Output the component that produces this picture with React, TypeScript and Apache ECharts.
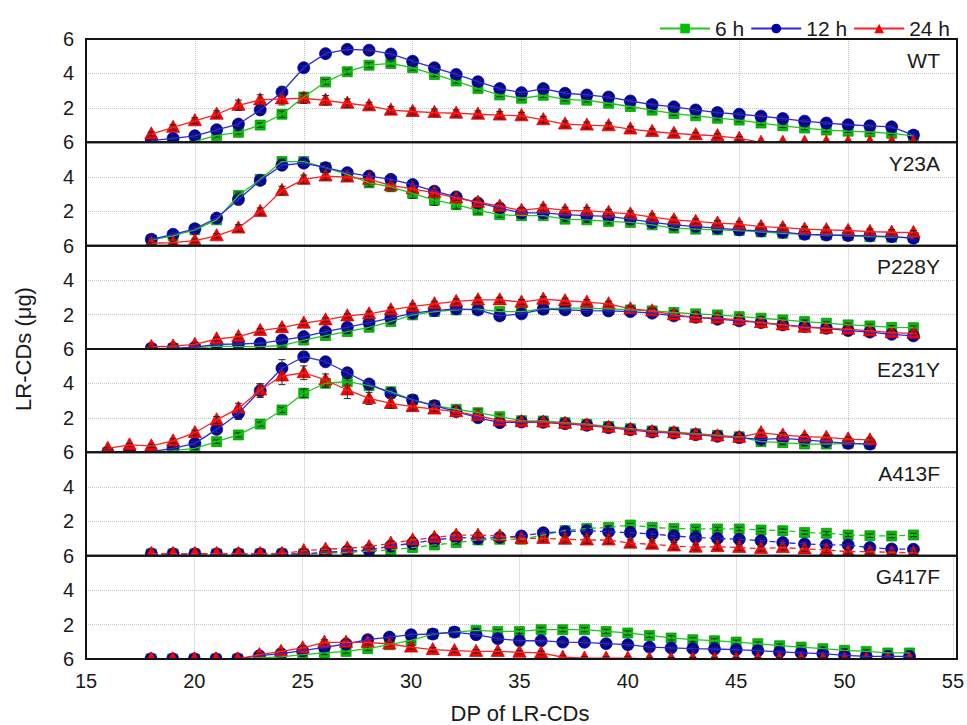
import React, { useEffect, useRef } from "react";
import * as echarts from "echarts";

// ---------- data ----------
const panels = ["WT", "Y23A", "P228Y", "E231Y", "A413F", "G417F"];
const times = ["6 h", "12 h", "24 h"];
const yTickValues = [0, 2, 4, 6];
const yTickLabels = ["6", "2", "4", "6"];
const xTicks = [15, 20, 25, 30, 35, 40, 45, 50, 55];

const dp18to53 = [18, 19, 20, 21, 22, 23, 24, 25, 26, 27, 28, 29, 30, 31, 32, 33, 34, 35, 36, 37, 38, 39, 40, 41, 42, 43, 44, 45, 46, 47, 48, 49, 50, 51, 52, 53];
const dp16to51 = [16, 17, 18, 19, 20, 21, 22, 23, 24, 25, 26, 27, 28, 29, 30, 31, 32, 33, 34, 35, 36, 37, 38, 39, 40, 41, 42, 43, 44, 45, 46, 47, 48, 49, 50, 51];

// WT
const WT_6h = [0.02, 0.03, 0.05, 0.4, 0.58, 1.0, 1.63, 2.63, 3.5, 4.1, 4.48, 4.58, 4.33, 3.94, 3.56, 3.12, 2.75, 2.56, 2.73, 2.5, 2.44, 2.27, 2.08, 1.87, 1.67, 1.54, 1.4, 1.29, 1.12, 0.96, 0.83, 0.71, 0.65, 0.6, 0.52, 0.38];
const WT_6h_err = [0, 0, 0, 0.1, 0.1, 0.12, 0.18, 0.2, 0.15, 0.15, 0.15, 0.15, 0.15, 0.12, 0.12, 0.12, 0.1, 0.1, 0.12, 0.1, 0.1, 0.1, 0.1, 0.1, 0.1, 0.1, 0.1, 0.1, 0.1, 0.1, 0.1, 0.1, 0.08, 0.08, 0.08, 0.05];
const WT_12h = [0.1, 0.23, 0.38, 0.73, 1.06, 1.88, 2.92, 4.33, 5.15, 5.4, 5.35, 5.13, 4.71, 4.33, 3.94, 3.52, 3.12, 2.88, 3.12, 2.85, 2.75, 2.63, 2.4, 2.19, 2.06, 1.88, 1.73, 1.63, 1.52, 1.38, 1.23, 1.12, 1.02, 0.96, 0.9, 0.42];
const WT_12h_err = [0.05, 0.08, 0.1, 0.1, 0.12, 0.15, 0.28, 0.12, 0.1, 0.1, 0.1, 0.12, 0.12, 0.12, 0.1, 0.1, 0.1, 0.1, 0.15, 0.1, 0.1, 0.1, 0.1, 0.1, 0.1, 0.1, 0.1, 0.1, 0.1, 0.1, 0.08, 0.08, 0.08, 0.08, 0.08, 0.05];
const WT_24h = [0.48, 0.87, 1.25, 1.63, 2.15, 2.46, 2.52, 2.56, 2.44, 2.27, 2.12, 1.87, 1.79, 1.73, 1.69, 1.63, 1.58, 1.54, 1.31, 1.06, 1.0, 0.96, 0.77, 0.63, 0.52, 0.44, 0.38, 0.23, 0, 0, 0, 0, 0, 0, 0, 0];
const WT_24h_err = [0.12, 0.15, 0.18, 0.2, 0.3, 0.3, 0.35, 0.3, 0.28, 0.25, 0.2, 0.2, 0.2, 0.2, 0.2, 0.2, 0.2, 0.2, 0.2, 0.18, 0.18, 0.18, 0.15, 0.15, 0.15, 0.12, 0.12, 0.1, 0, 0, 0, 0, 0, 0, 0, 0];

// Y23A
const Y23A_6h = [0.33, 0.57, 0.92, 1.5, 2.91, 3.85, 4.88, 4.88, 4.53, 4.14, 3.65, 3.42, 3.03, 2.64, 2.38, 2.05, 1.8, 1.74, 1.74, 1.54, 1.5, 1.41, 1.35, 1.21, 1.02, 0.96, 0.92, 0.88, 0.8, 0.72, 0.66, 0.62, 0.59, 0.53, 0.49, 0.47];
const Y23A_6h_err = [0.08, 0.1, 0.12, 0.15, 0.2, 0.15, 0.15, 0.12, 0.15, 0.2, 0.22, 0.25, 0.28, 0.3, 0.25, 0.2, 0.15, 0.15, 0.15, 0.15, 0.15, 0.15, 0.12, 0.12, 0.12, 0.1, 0.1, 0.1, 0.1, 0.1, 0.1, 0.1, 0.1, 0.08, 0.08, 0.08];
const Y23A_12h = [0.37, 0.66, 0.98, 1.6, 2.68, 3.79, 4.67, 4.79, 4.53, 4.24, 4.04, 3.85, 3.55, 3.16, 2.83, 2.48, 2.19, 1.9, 1.9, 1.8, 1.74, 1.7, 1.54, 1.35, 1.21, 1.11, 1.02, 0.92, 0.86, 0.78, 0.66, 0.62, 0.59, 0.57, 0.53, 0.43];
const Y23A_12h_err = [0.08, 0.1, 0.1, 0.15, 0.3, 0.2, 0.2, 0.15, 0.12, 0.15, 0.2, 0.25, 0.2, 0.18, 0.15, 0.15, 0.12, 0.12, 0.15, 0.12, 0.12, 0.12, 0.1, 0.1, 0.1, 0.1, 0.1, 0.1, 0.1, 0.1, 0.08, 0.08, 0.08, 0.08, 0.08, 0.08];
const Y23A_24h = [0.14, 0.18, 0.29, 0.57, 1.02, 1.99, 3.2, 3.85, 4.04, 3.98, 3.85, 3.5, 3.3, 3.07, 2.77, 2.52, 2.29, 2.05, 2.19, 2.05, 2.03, 1.93, 1.84, 1.66, 1.5, 1.41, 1.31, 1.25, 1.11, 1.05, 0.96, 0.92, 0.88, 0.82, 0.78, 0.76];
const Y23A_24h_err = [0.05, 0.08, 0.1, 0.12, 0.2, 0.2, 0.25, 0.25, 0.22, 0.2, 0.2, 0.2, 0.2, 0.18, 0.15, 0.15, 0.15, 0.15, 0.18, 0.18, 0.18, 0.18, 0.18, 0.18, 0.15, 0.15, 0.15, 0.15, 0.15, 0.15, 0.15, 0.15, 0.15, 0.15, 0.15, 0.12];

// P228Y
const P228Y_6h = [0, 0.04, 0.04, 0.17, 0.14, 0.14, 0.19, 0.52, 0.78, 1.01, 1.26, 1.59, 1.98, 2.17, 2.27, 2.31, 2.17, 2.17, 2.33, 2.37, 2.37, 2.33, 2.27, 2.21, 2.12, 2.04, 1.98, 1.88, 1.79, 1.69, 1.59, 1.5, 1.4, 1.34, 1.26, 1.24];
const P228Y_6h_err = [0, 0.03, 0.05, 0.05, 0.05, 0.05, 0.08, 0.1, 0.1, 0.12, 0.12, 0.12, 0.12, 0.12, 0.12, 0.12, 0.12, 0.12, 0.12, 0.12, 0.12, 0.12, 0.1, 0.1, 0.1, 0.1, 0.1, 0.1, 0.1, 0.1, 0.1, 0.1, 0.1, 0.1, 0.1, 0.1];
const P228Y_12h = [0.04, 0.04, 0.1, 0.27, 0.29, 0.33, 0.52, 0.72, 1.01, 1.26, 1.53, 1.79, 2.08, 2.23, 2.33, 2.27, 1.92, 2.04, 2.31, 2.27, 2.23, 2.21, 2.17, 2.08, 1.92, 1.84, 1.73, 1.63, 1.53, 1.4, 1.3, 1.2, 1.07, 0.98, 0.85, 0.76];
const P228Y_12h_err = [0.03, 0.03, 0.05, 0.08, 0.08, 0.1, 0.1, 0.12, 0.12, 0.12, 0.12, 0.12, 0.12, 0.12, 0.12, 0.12, 0.12, 0.12, 0.12, 0.12, 0.12, 0.12, 0.1, 0.1, 0.1, 0.1, 0.1, 0.1, 0.1, 0.1, 0.1, 0.1, 0.1, 0.1, 0.1, 0.1];
const P228Y_24h = [0.14, 0.17, 0.27, 0.58, 0.72, 1.07, 1.24, 1.5, 1.69, 1.92, 2.04, 2.27, 2.47, 2.62, 2.76, 2.85, 2.85, 2.72, 2.89, 2.8, 2.72, 2.62, 2.33, 2.21, 1.98, 1.84, 1.79, 1.69, 1.53, 1.4, 1.26, 1.2, 1.15, 1.05, 0.95, 0.91];
const P228Y_24h_err = [0.05, 0.05, 0.08, 0.1, 0.12, 0.12, 0.12, 0.12, 0.12, 0.12, 0.15, 0.15, 0.15, 0.15, 0.15, 0.15, 0.15, 0.15, 0.15, 0.15, 0.15, 0.15, 0.15, 0.15, 0.15, 0.12, 0.12, 0.12, 0.12, 0.12, 0.12, 0.12, 0.12, 0.12, 0.12, 0.12];

// E231Y
const E231Y_6h = [0, 0, 0, 0.1, 0.23, 0.62, 1.01, 1.64, 2.46, 3.43, 4.01, 4.1, 3.87, 3.52, 3.04, 2.71, 2.5, 2.3, 2.07, 1.84, 1.82, 1.72, 1.63, 1.5, 1.37, 1.24, 1.18, 1.08, 0.99, 0.9, 0.62, 0.56, 0.48, 0.48, 0.52, 0.48];
const E231Y_6h_err = [0, 0, 0, 0.05, 0.08, 0.1, 0.12, 0.12, 0.15, 0.25, 0.25, 0.2, 0.18, 0.2, 0.25, 0.2, 0.18, 0.2, 0.15, 0.15, 0.15, 0.12, 0.12, 0.12, 0.1, 0.1, 0.1, 0.1, 0.1, 0.1, 0.12, 0.12, 0.1, 0.1, 0.1, 0.1];
const E231Y_12h = [0, 0.04, 0.04, 0.23, 0.52, 1.33, 2.26, 3.58, 4.88, 5.55, 5.26, 4.62, 3.97, 3.42, 3.04, 2.71, 2.36, 2.01, 1.72, 1.76, 1.74, 1.66, 1.57, 1.43, 1.31, 1.18, 1.12, 1.02, 0.93, 0.85, 0.75, 0.81, 0.72, 0.62, 0.52, 0.48];
const E231Y_12h_err = [0, 0.03, 0.03, 0.08, 0.12, 0.2, 0.35, 0.4, 0.5, 0.3, 0.1, 0.2, 0.2, 0.2, 0.3, 0.2, 0.15, 0.15, 0.15, 0.12, 0.12, 0.12, 0.12, 0.12, 0.12, 0.1, 0.1, 0.1, 0.1, 0.1, 0.12, 0.12, 0.12, 0.1, 0.1, 0.1];
const E231Y_24h = [0.23, 0.43, 0.37, 0.66, 1.14, 1.88, 2.55, 3.62, 4.43, 4.62, 4.2, 3.62, 3.13, 2.84, 2.65, 2.51, 2.36, 2.13, 1.84, 1.78, 1.76, 1.68, 1.59, 1.45, 1.33, 1.2, 1.14, 1.04, 0.95, 0.87, 1.14, 1.0, 0.91, 0.87, 0.77, 0.72];
const E231Y_24h_err = [0.05, 0.08, 0.1, 0.12, 0.15, 0.2, 0.3, 0.35, 0.5, 0.4, 0.35, 0.5, 0.35, 0.3, 0.2, 0.15, 0.15, 0.15, 0.15, 0.12, 0.12, 0.12, 0.12, 0.12, 0.12, 0.12, 0.1, 0.1, 0.1, 0.1, 0.15, 0.15, 0.12, 0.12, 0.12, 0.12];

// A413F
const A413F_6h = [0.1, 0.1, 0.1, 0.1, 0.1, 0.1, 0.1, 0.1, 0.14, 0.19, 0.27, 0.33, 0.47, 0.62, 0.76, 0.91, 0.95, 0.95, 1.2, 1.45, 1.58, 1.64, 1.78, 1.64, 1.58, 1.55, 1.55, 1.55, 1.49, 1.45, 1.35, 1.3, 1.2, 1.16, 1.14, 1.2];
const A413F_6h_err = [0, 0, 0, 0, 0, 0, 0, 0.05, 0.05, 0.05, 0.08, 0.1, 0.1, 0.1, 0.1, 0.1, 0.1, 0.1, 0.1, 0.1, 0.1, 0.1, 0.1, 0.1, 0.1, 0.1, 0.1, 0.1, 0.1, 0.1, 0.1, 0.1, 0.1, 0.1, 0.1, 0.1];
const A413F_12h = [0.1, 0.1, 0.1, 0.1, 0.1, 0.1, 0.1, 0.1, 0.19, 0.27, 0.33, 0.56, 0.72, 0.91, 1.06, 1.0, 1.06, 1.14, 1.33, 1.39, 1.45, 1.39, 1.33, 1.26, 1.14, 1.06, 1.0, 0.95, 0.87, 0.76, 0.68, 0.62, 0.62, 0.47, 0.39, 0.37];
const A413F_12h_err = [0, 0, 0, 0, 0, 0, 0, 0.05, 0.05, 0.08, 0.08, 0.1, 0.1, 0.12, 0.12, 0.12, 0.12, 0.12, 0.12, 0.12, 0.15, 0.15, 0.15, 0.15, 0.15, 0.12, 0.12, 0.12, 0.12, 0.12, 0.1, 0.1, 0.1, 0.1, 0.1, 0.1];
const A413F_24h = [0.12, 0.12, 0.12, 0.12, 0.12, 0.12, 0.12, 0.29, 0.37, 0.43, 0.52, 0.72, 0.91, 1.06, 1.19, 1.19, 1.14, 1.0, 1.0, 0.95, 0.91, 0.91, 0.72, 0.66, 0.56, 0.49, 0.52, 0.47, 0.41, 0.47, 0.39, 0.33, 0.23, 0.23, 0.19, 0.17];
const A413F_24h_err = [0, 0, 0, 0, 0, 0, 0, 0.08, 0.08, 0.1, 0.1, 0.12, 0.15, 0.15, 0.15, 0.15, 0.15, 0.15, 0.2, 0.2, 0.2, 0.2, 0.2, 0.2, 0.2, 0.18, 0.18, 0.18, 0.15, 0.15, 0.15, 0.15, 0.12, 0.12, 0.12, 0.1];

// G417F
const G417F_6h = [0, 0, 0, 0, 0, 0.06, 0.12, 0.25, 0.35, 0.44, 0.6, 0.83, 1.08, 1.45, 1.56, 1.66, 1.6, 1.6, 1.7, 1.7, 1.7, 1.6, 1.51, 1.37, 1.22, 1.12, 1.06, 0.98, 0.89, 0.77, 0.69, 0.6, 0.5, 0.44, 0.35, 0.35];
const G417F_6h_err = [0, 0, 0, 0, 0, 0.03, 0.05, 0.08, 0.1, 0.1, 0.1, 0.12, 0.12, 0.12, 0.12, 0.12, 0.12, 0.12, 0.12, 0.12, 0.12, 0.12, 0.12, 0.12, 0.12, 0.12, 0.12, 0.12, 0.1, 0.1, 0.1, 0.1, 0.1, 0.1, 0.1, 0.1];
const G417F_12h = [0, 0, 0, 0, 0, 0.19, 0.31, 0.48, 0.68, 0.87, 1.12, 1.27, 1.41, 1.45, 1.56, 1.41, 1.18, 1.06, 1.06, 0.98, 0.97, 0.89, 0.83, 0.69, 0.64, 0.6, 0.58, 0.54, 0.48, 0.41, 0.35, 0.31, 0.21, 0.15, 0.15, 0.15];
const G417F_12h_err = [0, 0, 0, 0, 0, 0.05, 0.08, 0.1, 0.1, 0.1, 0.1, 0.1, 0.1, 0.1, 0.1, 0.1, 0.1, 0.1, 0.1, 0.1, 0.1, 0.1, 0.1, 0.1, 0.1, 0.1, 0.1, 0.1, 0.1, 0.1, 0.1, 0.1, 0.08, 0.08, 0.08, 0.08];
const G417F_24h = [0, 0, 0, 0, 0, 0.25, 0.44, 0.64, 0.97, 0.97, 0.97, 0.87, 0.69, 0.54, 0.48, 0.44, 0.44, 0.39, 0.35, 0.1, 0.05, 0.05, 0.05, 0, 0, 0, 0, 0, 0, 0, 0, 0, 0, 0, 0, 0];
const G417F_24h_err = [0, 0, 0, 0, 0, 0.08, 0.1, 0.12, 0.15, 0.15, 0.15, 0.12, 0.12, 0.12, 0.1, 0.1, 0.1, 0.1, 0.1, 0.08, 0.08, 0.08, 0.08, 0.08, 0.08, 0.08, 0.08, 0.08, 0.08, 0.08, 0.08, 0.08, 0.08, 0.08, 0.08, 0.08];

// ---------- assembly ----------
const panelData = [
  { dp: dp18to53, vals: [WT_6h, WT_12h, WT_24h], errs: [WT_6h_err, WT_12h_err, WT_24h_err], dashed: false },
  { dp: dp18to53, vals: [Y23A_6h, Y23A_12h, Y23A_24h], errs: [Y23A_6h_err, Y23A_12h_err, Y23A_24h_err], dashed: false },
  { dp: dp18to53, vals: [P228Y_6h, P228Y_12h, P228Y_24h], errs: [P228Y_6h_err, P228Y_12h_err, P228Y_24h_err], dashed: false },
  { dp: dp16to51, vals: [E231Y_6h, E231Y_12h, E231Y_24h], errs: [E231Y_6h_err, E231Y_12h_err, E231Y_24h_err], dashed: false },
  { dp: dp18to53, vals: [A413F_6h, A413F_12h, A413F_24h], errs: [A413F_6h_err, A413F_12h_err, A413F_24h_err], dashed: true },
  { dp: dp18to53, vals: [G417F_6h, G417F_12h, G417F_24h], errs: [G417F_6h_err, G417F_12h_err, G417F_24h_err], dashed: false },
];

const FONT = "'Liberation Sans', Arial, Helvetica, sans-serif";
const TXT = "#1a1a1a";
const LEFT = 86;
const WIDTH = 871;
const TOP0 = 39;
const PH = 103.33;
const lineColors = ["#22c422", "#2a2ae0", "#ff2020"];
const fillColors = ["#00bf00", "#0000a6", "#ff0000"];
const edgeColors = ["#008f00", "#00006e", "#c80000"];
const symbols = ["rect", "circle", "triangle"];

function makeRender(j: number) {
  return (params: any, api: any) => {
    const x = api.value(0);
    const y = api.value(1);
    const e = api.value(2);
    const p = api.coord([x, y]);
    const children: any[] = [];
    const style = { fill: fillColors[j], stroke: edgeColors[j], lineWidth: 0.7 };
    if (j === 0) {
      children.push({ type: "rect", shape: { x: p[0] - 5, y: p[1] - 5, width: 10, height: 10 }, style });
    } else if (j === 1) {
      children.push({ type: "circle", shape: { cx: p[0], cy: p[1], r: 6 }, style });
    } else {
      children.push({
        type: "polygon",
        shape: { points: [[p[0], p[1] - 7.2], [p[0] - 6.6, p[1] + 5], [p[0] + 6.6, p[1] + 5]] },
        style,
      });
    }
    if (e > 0) {
      const t = api.coord([x, y + e])[1];
      const b = api.coord([x, y - e])[1];
      const es = { stroke: "#2a2a2a", lineWidth: 1 };
      children.push({ type: "line", shape: { x1: p[0], y1: t, x2: p[0], y2: b }, style: es });
      children.push({ type: "line", shape: { x1: p[0] - 3.5, y1: t, x2: p[0] + 3.5, y2: t }, style: es });
      children.push({ type: "line", shape: { x1: p[0] - 3.5, y1: b, x2: p[0] + 3.5, y2: b }, style: es });
    }
    return { type: "group", children };
  };
}

function buildOption() {
  const grid = panels.map((_, i) => ({ left: LEFT, width: WIDTH, top: TOP0 + i * PH, height: PH, show: false }));
  const xAxis = panels.map((_, i) => ({
    type: "value",
    gridIndex: i,
    min: xTicks[0],
    max: xTicks[xTicks.length - 1],
    interval: 5,
    axisLine: { show: false },
    axisTick: { show: false },
    axisLabel: { show: i === panels.length - 1, fontSize: 20, color: TXT, fontFamily: FONT, margin: 12 },
    splitLine: { show: true, lineStyle: { type: "dotted", color: "#c4c4c4", width: 1 } },
  }));
  const yAxis = panels.map((_, i) => ({
    type: "value",
    gridIndex: i,
    min: 0,
    max: 6,
    interval: 2,
    axisLine: { show: false },
    axisTick: { show: false },
    axisLabel: {
      fontSize: 20,
      color: TXT,
      fontFamily: FONT,
      margin: 12,
      showMinLabel: i === panels.length - 1,
      showMaxLabel: true,
      formatter: (v: number) => {
        const k = yTickValues.indexOf(v);
        return k >= 0 ? yTickLabels[k] : String(v);
      },
    },
    splitLine: { show: true, lineStyle: { type: "dotted", color: "#c4c4c4", width: 1 } },
  }));

  const series: any[] = [];
  panelData.forEach((pd, i) => {
    for (let j = 0; j < 3; j++) {
      const v = pd.vals[j];
      const e = pd.errs[j];
      series.push({
        type: "line",
        name: times[j],
        xAxisIndex: i,
        yAxisIndex: i,
        data: pd.dp.map((x, k) => [x, v[k]]),
        symbol: symbols[j],
        symbolSize: 10,
        showSymbol: false,
        clip: true,
        silent: true,
        lineStyle: { color: lineColors[j], width: 1.3, type: pd.dashed ? [6, 4] : "solid" },
        itemStyle: { color: fillColors[j] },
        z: 2,
      });
      series.push({
        type: "custom",
        name: times[j],
        xAxisIndex: i,
        yAxisIndex: i,
        clip: true,
        silent: true,
        encode: { x: 0, y: 1 },
        data: pd.dp.map((x, k) => [x, v[k], e[k]]),
        renderItem: makeRender(j),
        z: 2,
      });
    }
  });

  const graphic: any[] = [];
  panels.forEach((name, i) => {
    const top = TOP0 + i * PH;
    graphic.push({
      type: "rect",
      silent: true,
      z: 100,
      shape: { x: LEFT, y: top, width: WIDTH, height: PH },
      style: { fill: "none", stroke: "#141414", lineWidth: 2 },
    });
    graphic.push({
      type: "text",
      silent: true,
      z: 100,
      x: 940,
      y: top + 21,
      style: { text: name, fontSize: 21, fontFamily: FONT, fill: TXT, align: "right", verticalAlign: "middle" },
    });
  });
  graphic.push({
    type: "text",
    silent: true,
    z: 100,
    x: 23,
    y: 349,
    rotation: Math.PI / 2,
    style: { text: "LR-CDs (μg)", fontSize: 22, fontFamily: FONT, fill: TXT, align: "center", verticalAlign: "middle" },
  });
  graphic.push({
    type: "text",
    silent: true,
    z: 100,
    x: 520,
    y: 713,
    style: { text: "DP of LR-CDs", fontSize: 22, fontFamily: FONT, fill: TXT, align: "center", verticalAlign: "middle" },
  });

  return {
    animation: false,
    backgroundColor: "#ffffff",
    textStyle: { fontFamily: FONT },
    legend: {
      data: times,
      top: 13,
      right: 12,
      itemWidth: 50,
      itemHeight: 12,
      itemGap: 6,
      selectedMode: false,
      textStyle: { fontSize: 21, color: TXT, fontFamily: FONT },
    },
    grid,
    xAxis,
    yAxis,
    series,
    graphic,
  };
}

export default function App() {
  const ref = useRef<HTMLDivElement>(null);
  useEffect(() => {
    if (!ref.current) return;
    const chart = echarts.init(ref.current, undefined, { renderer: "svg" });
    chart.setOption(buildOption() as any);
    return () => chart.dispose();
  }, []);
  return (
    <div
      ref={ref}
      style={{ position: "fixed", left: 0, top: 0, width: 967, height: 725, background: "#fff" }}
    />
  );
}
